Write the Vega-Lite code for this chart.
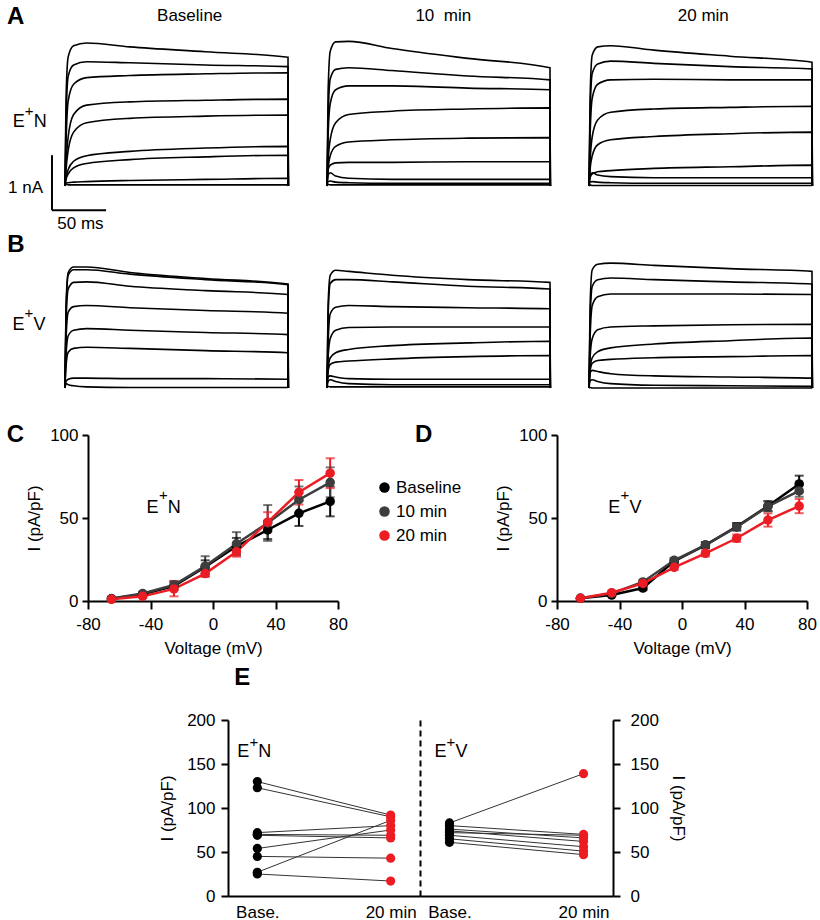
{
"$schema":"https://vega.github.io/schema/vega-lite/v6.json",
"padding":0,
"background":"white",
"config":{
 "font":"Liberation Sans",
 "view":{"stroke":null},
 "axis":{"domainColor":"#000","domainWidth":2,"tickColor":"#000","tickWidth":2,"labelColor":"#000","titleColor":"#000","labelFontSize":17,"titleFontSize":17,"titleFontWeight":"normal","grid":false,"labelFont":"Liberation Sans","titleFont":"Liberation Sans","labelFlush":false,"labelOverlap":false},
 "legend":{"labelFont":"Liberation Sans","labelColor":"#000"},
 "text":{"font":"Liberation Sans","color":"#000"}
},
"datasets":{
"A_base":[
{"k":1,"t":0,"i":0},{"k":1,"t":1,"i":1.6},{"k":1,"t":3,"i":2.35},{"k":1,"t":8,"i":2.55},{"k":1,"t":20,"i":2.6},{"k":1,"t":60,"i":2.53},{"k":1,"t":130,"i":2.44},{"k":1,"t":206,"i":2.34},{"k":1,"t":206.3,"i":0},
{"k":2,"t":0,"i":0},{"k":2,"t":1,"i":1.2},{"k":2,"t":3,"i":2.0},{"k":2,"t":8,"i":2.2},{"k":2,"t":20,"i":2.26},{"k":2,"t":60,"i":2.24},{"k":2,"t":130,"i":2.2},{"k":2,"t":206,"i":2.17},{"k":2,"t":206.3,"i":0},
{"k":3,"t":0,"i":0},{"k":3,"t":1,"i":0.8},{"k":3,"t":3,"i":1.55},{"k":3,"t":8,"i":1.85},{"k":3,"t":20,"i":1.97},{"k":3,"t":60,"i":2.01},{"k":3,"t":130,"i":2.04},{"k":3,"t":206,"i":2.06},{"k":3,"t":206.3,"i":0},
{"k":4,"t":0,"i":0},{"k":4,"t":1,"i":0.4},{"k":4,"t":3,"i":0.9},{"k":4,"t":8,"i":1.3},{"k":4,"t":20,"i":1.47},{"k":4,"t":60,"i":1.53},{"k":4,"t":130,"i":1.56},{"k":4,"t":206,"i":1.58},{"k":4,"t":206.3,"i":0},
{"k":5,"t":0,"i":0},{"k":5,"t":1,"i":0.3},{"k":5,"t":3,"i":0.65},{"k":5,"t":8,"i":0.98},{"k":5,"t":20,"i":1.15},{"k":5,"t":60,"i":1.23},{"k":5,"t":130,"i":1.27},{"k":5,"t":206,"i":1.29},{"k":5,"t":206.3,"i":0},
{"k":6,"t":0,"i":0},{"k":6,"t":1,"i":0.15},{"k":6,"t":3,"i":0.3},{"k":6,"t":8,"i":0.45},{"k":6,"t":20,"i":0.55},{"k":6,"t":60,"i":0.63},{"k":6,"t":130,"i":0.69},{"k":6,"t":206,"i":0.72},{"k":6,"t":206.3,"i":0},
{"k":7,"t":0,"i":0},{"k":7,"t":1,"i":0.12},{"k":7,"t":3,"i":0.22},{"k":7,"t":8,"i":0.33},{"k":7,"t":20,"i":0.41},{"k":7,"t":60,"i":0.48},{"k":7,"t":130,"i":0.53},{"k":7,"t":206,"i":0.56},{"k":7,"t":206.3,"i":0},
{"k":8,"t":0,"i":0},{"k":8,"t":1,"i":0.05},{"k":8,"t":3,"i":0.06},{"k":8,"t":8,"i":0.07},{"k":8,"t":20,"i":0.08},{"k":8,"t":60,"i":0.1},{"k":8,"t":130,"i":0.12},{"k":8,"t":206,"i":0.14},{"k":8,"t":206.3,"i":0},
{"k":9,"t":0,"i":0},{"k":9,"t":1,"i":0.03},{"k":9,"t":3,"i":0.02},{"k":9,"t":8,"i":0.02},{"k":9,"t":20,"i":0.02},{"k":9,"t":60,"i":0.02},{"k":9,"t":130,"i":0.02},{"k":9,"t":206,"i":0.02},{"k":9,"t":206.3,"i":0}
],
"A_10":[
{"k":1,"t":0,"i":0},{"k":1,"t":1,"i":1.7},{"k":1,"t":3,"i":2.45},{"k":1,"t":8,"i":2.62},{"k":1,"t":20,"i":2.63},{"k":1,"t":60,"i":2.5},{"k":1,"t":130,"i":2.32},{"k":1,"t":206,"i":2.15},{"k":1,"t":206.3,"i":0},
{"k":2,"t":0,"i":0},{"k":2,"t":1,"i":1.2},{"k":2,"t":3,"i":1.95},{"k":2,"t":8,"i":2.12},{"k":2,"t":20,"i":2.15},{"k":2,"t":60,"i":2.1},{"k":2,"t":130,"i":2.0},{"k":2,"t":206,"i":1.93},{"k":2,"t":206.3,"i":0},
{"k":3,"t":0,"i":0},{"k":3,"t":1,"i":0.9},{"k":3,"t":3,"i":1.5},{"k":3,"t":8,"i":1.75},{"k":3,"t":20,"i":1.82},{"k":3,"t":60,"i":1.82},{"k":3,"t":130,"i":1.78},{"k":3,"t":206,"i":1.75},{"k":3,"t":206.3,"i":0},
{"k":4,"t":0,"i":0},{"k":4,"t":1,"i":0.45},{"k":4,"t":3,"i":0.85},{"k":4,"t":8,"i":1.15},{"k":4,"t":20,"i":1.3},{"k":4,"t":60,"i":1.36},{"k":4,"t":130,"i":1.4},{"k":4,"t":206,"i":1.42},{"k":4,"t":206.3,"i":0},
{"k":5,"t":0,"i":0},{"k":5,"t":1,"i":0.3},{"k":5,"t":3,"i":0.55},{"k":5,"t":8,"i":0.72},{"k":5,"t":20,"i":0.8},{"k":5,"t":60,"i":0.84},{"k":5,"t":130,"i":0.87},{"k":5,"t":206,"i":0.88},{"k":5,"t":206.3,"i":0},
{"k":6,"t":0,"i":0},{"k":6,"t":1,"i":0.3},{"k":6,"t":3,"i":0.38},{"k":6,"t":8,"i":0.42},{"k":6,"t":20,"i":0.43},{"k":6,"t":60,"i":0.43},{"k":6,"t":130,"i":0.44},{"k":6,"t":206,"i":0.44},{"k":6,"t":206.3,"i":0},
{"k":7,"t":0,"i":0},{"k":7,"t":1,"i":0.2},{"k":7,"t":3,"i":0.24},{"k":7,"t":8,"i":0.18},{"k":7,"t":20,"i":0.14},{"k":7,"t":60,"i":0.12},{"k":7,"t":130,"i":0.12},{"k":7,"t":206,"i":0.12},{"k":7,"t":206.3,"i":0},
{"k":8,"t":0,"i":0},{"k":8,"t":1,"i":0.08},{"k":8,"t":3,"i":0.09},{"k":8,"t":8,"i":0.07},{"k":8,"t":20,"i":0.06},{"k":8,"t":60,"i":0.05},{"k":8,"t":130,"i":0.05},{"k":8,"t":206,"i":0.05},{"k":8,"t":206.3,"i":0},
{"k":9,"t":0,"i":0},{"k":9,"t":1,"i":0.03},{"k":9,"t":3,"i":0.02},{"k":9,"t":8,"i":0.02},{"k":9,"t":20,"i":0.02},{"k":9,"t":60,"i":0.02},{"k":9,"t":130,"i":0.02},{"k":9,"t":206,"i":0.02},{"k":9,"t":206.3,"i":0}
],
"A_20":[
{"k":1,"t":0,"i":0},{"k":1,"t":1,"i":1.6},{"k":1,"t":3,"i":2.38},{"k":1,"t":8,"i":2.53},{"k":1,"t":20,"i":2.55},{"k":1,"t":60,"i":2.47},{"k":1,"t":130,"i":2.36},{"k":1,"t":206,"i":2.25},{"k":1,"t":206.3,"i":0},
{"k":2,"t":0,"i":0},{"k":2,"t":1,"i":1.3},{"k":2,"t":3,"i":2.05},{"k":2,"t":8,"i":2.22},{"k":2,"t":20,"i":2.27},{"k":2,"t":60,"i":2.23},{"k":2,"t":130,"i":2.17},{"k":2,"t":206,"i":2.13},{"k":2,"t":206.3,"i":0},
{"k":3,"t":0,"i":0},{"k":3,"t":1,"i":0.9},{"k":3,"t":3,"i":1.6},{"k":3,"t":8,"i":1.85},{"k":3,"t":20,"i":1.93},{"k":3,"t":60,"i":1.94},{"k":3,"t":130,"i":1.93},{"k":3,"t":206,"i":1.93},{"k":3,"t":206.3,"i":0},
{"k":4,"t":0,"i":0},{"k":4,"t":1,"i":0.45},{"k":4,"t":3,"i":0.9},{"k":4,"t":8,"i":1.2},{"k":4,"t":20,"i":1.34},{"k":4,"t":60,"i":1.4},{"k":4,"t":130,"i":1.43},{"k":4,"t":206,"i":1.45},{"k":4,"t":206.3,"i":0},
{"k":5,"t":0,"i":0},{"k":5,"t":1,"i":0.3},{"k":5,"t":3,"i":0.55},{"k":5,"t":8,"i":0.75},{"k":5,"t":20,"i":0.84},{"k":5,"t":60,"i":0.9},{"k":5,"t":130,"i":0.95},{"k":5,"t":206,"i":0.98},{"k":5,"t":206.3,"i":0},
{"k":6,"t":0,"i":0},{"k":6,"t":1,"i":0.15},{"k":6,"t":3,"i":0.22},{"k":6,"t":8,"i":0.26},{"k":6,"t":20,"i":0.28},{"k":6,"t":60,"i":0.32},{"k":6,"t":130,"i":0.35},{"k":6,"t":206,"i":0.38},{"k":6,"t":206.3,"i":0},
{"k":7,"t":0,"i":0},{"k":7,"t":1,"i":0.2},{"k":7,"t":3,"i":0.24},{"k":7,"t":8,"i":0.2},{"k":7,"t":20,"i":0.17},{"k":7,"t":60,"i":0.15},{"k":7,"t":130,"i":0.15},{"k":7,"t":206,"i":0.15},{"k":7,"t":206.3,"i":0},
{"k":8,"t":0,"i":0},{"k":8,"t":1,"i":0.07},{"k":8,"t":3,"i":0.08},{"k":8,"t":8,"i":0.07},{"k":8,"t":20,"i":0.06},{"k":8,"t":60,"i":0.05},{"k":8,"t":130,"i":0.05},{"k":8,"t":206,"i":0.05},{"k":8,"t":206.3,"i":0},
{"k":9,"t":0,"i":0},{"k":9,"t":1,"i":0.02},{"k":9,"t":3,"i":0.01},{"k":9,"t":8,"i":0.01},{"k":9,"t":20,"i":0.01},{"k":9,"t":60,"i":0.01},{"k":9,"t":130,"i":0.01},{"k":9,"t":206,"i":0.01},{"k":9,"t":206.3,"i":0}
],
"B_base":[
{"k":1,"t":0,"i":0},{"k":1,"t":1,"i":1.5},{"k":1,"t":3,"i":2.1},{"k":1,"t":8,"i":2.2},{"k":1,"t":20,"i":2.2},{"k":1,"t":60,"i":2.1},{"k":1,"t":130,"i":1.99},{"k":1,"t":206,"i":1.89},{"k":1,"t":206.3,"i":0},
{"k":2,"t":0,"i":0},{"k":2,"t":1,"i":1.4},{"k":2,"t":3,"i":2.05},{"k":2,"t":8,"i":2.15},{"k":2,"t":20,"i":2.15},{"k":2,"t":60,"i":2.07},{"k":2,"t":130,"i":1.97},{"k":2,"t":206,"i":1.88},{"k":2,"t":206.3,"i":0},
{"k":3,"t":0,"i":0},{"k":3,"t":1,"i":1.2},{"k":3,"t":3,"i":1.8},{"k":3,"t":8,"i":1.92},{"k":3,"t":20,"i":1.93},{"k":3,"t":60,"i":1.85},{"k":3,"t":130,"i":1.77},{"k":3,"t":206,"i":1.7},{"k":3,"t":206.3,"i":0},
{"k":4,"t":0,"i":0},{"k":4,"t":1,"i":0.9},{"k":4,"t":3,"i":1.38},{"k":4,"t":8,"i":1.48},{"k":4,"t":20,"i":1.5},{"k":4,"t":60,"i":1.46},{"k":4,"t":130,"i":1.41},{"k":4,"t":206,"i":1.36},{"k":4,"t":206.3,"i":0},
{"k":5,"t":0,"i":0},{"k":5,"t":1,"i":0.6},{"k":5,"t":3,"i":0.95},{"k":5,"t":8,"i":1.05},{"k":5,"t":20,"i":1.08},{"k":5,"t":60,"i":1.05},{"k":5,"t":130,"i":1.01},{"k":5,"t":206,"i":0.97},{"k":5,"t":206.3,"i":0},
{"k":6,"t":0,"i":0},{"k":6,"t":1,"i":0.4},{"k":6,"t":3,"i":0.65},{"k":6,"t":8,"i":0.72},{"k":6,"t":20,"i":0.74},{"k":6,"t":60,"i":0.72},{"k":6,"t":130,"i":0.68},{"k":6,"t":206,"i":0.64},{"k":6,"t":206.3,"i":0},
{"k":7,"t":0,"i":0},{"k":7,"t":1,"i":0.12},{"k":7,"t":3,"i":0.16},{"k":7,"t":8,"i":0.18},{"k":7,"t":20,"i":0.18},{"k":7,"t":60,"i":0.17},{"k":7,"t":130,"i":0.17},{"k":7,"t":206,"i":0.16},{"k":7,"t":206.3,"i":0},
{"k":8,"t":0,"i":0},{"k":8,"t":1,"i":0.08},{"k":8,"t":3,"i":0.06},{"k":8,"t":8,"i":0.04},{"k":8,"t":20,"i":0.02},{"k":8,"t":60,"i":0.01},{"k":8,"t":130,"i":0.01},{"k":8,"t":206,"i":0.01},{"k":8,"t":206.3,"i":0}
],
"B_10":[
{"k":1,"t":0,"i":0},{"k":1,"t":1,"i":1.5},{"k":1,"t":3,"i":2.05},{"k":1,"t":8,"i":2.14},{"k":1,"t":20,"i":2.12},{"k":1,"t":60,"i":2.05},{"k":1,"t":130,"i":1.97},{"k":1,"t":206,"i":1.92},{"k":1,"t":206.3,"i":0},
{"k":2,"t":0,"i":0},{"k":2,"t":1,"i":1.3},{"k":2,"t":3,"i":1.9},{"k":2,"t":8,"i":1.97},{"k":2,"t":20,"i":1.97},{"k":2,"t":60,"i":1.93},{"k":2,"t":130,"i":1.85},{"k":2,"t":206,"i":1.8},{"k":2,"t":206.3,"i":0},
{"k":3,"t":0,"i":0},{"k":3,"t":1,"i":0.8},{"k":3,"t":3,"i":1.35},{"k":3,"t":8,"i":1.47},{"k":3,"t":20,"i":1.5},{"k":3,"t":60,"i":1.48},{"k":3,"t":130,"i":1.46},{"k":3,"t":206,"i":1.44},{"k":3,"t":206.3,"i":0},
{"k":4,"t":0,"i":0},{"k":4,"t":1,"i":0.55},{"k":4,"t":3,"i":0.9},{"k":4,"t":8,"i":1.05},{"k":4,"t":20,"i":1.1},{"k":4,"t":60,"i":1.11},{"k":4,"t":130,"i":1.11},{"k":4,"t":206,"i":1.11},{"k":4,"t":206.3,"i":0},
{"k":5,"t":0,"i":0},{"k":5,"t":1,"i":0.35},{"k":5,"t":3,"i":0.55},{"k":5,"t":8,"i":0.64},{"k":5,"t":20,"i":0.7},{"k":5,"t":60,"i":0.77},{"k":5,"t":130,"i":0.82},{"k":5,"t":206,"i":0.85},{"k":5,"t":206.3,"i":0},
{"k":6,"t":0,"i":0},{"k":6,"t":1,"i":0.3},{"k":6,"t":3,"i":0.43},{"k":6,"t":8,"i":0.47},{"k":6,"t":20,"i":0.49},{"k":6,"t":60,"i":0.53},{"k":6,"t":130,"i":0.57},{"k":6,"t":206,"i":0.59},{"k":6,"t":206.3,"i":0},
{"k":7,"t":0,"i":0},{"k":7,"t":1,"i":0.2},{"k":7,"t":3,"i":0.22},{"k":7,"t":8,"i":0.2},{"k":7,"t":20,"i":0.17},{"k":7,"t":60,"i":0.16},{"k":7,"t":130,"i":0.16},{"k":7,"t":206,"i":0.16},{"k":7,"t":206.3,"i":0},
{"k":8,"t":0,"i":0},{"k":8,"t":1,"i":0.12},{"k":8,"t":3,"i":0.15},{"k":8,"t":8,"i":0.12},{"k":8,"t":20,"i":0.08},{"k":8,"t":60,"i":0.06},{"k":8,"t":130,"i":0.06},{"k":8,"t":206,"i":0.06},{"k":8,"t":206.3,"i":0},
{"k":9,"t":0,"i":0},{"k":9,"t":1,"i":0.03},{"k":9,"t":3,"i":0.02},{"k":9,"t":8,"i":0.02},{"k":9,"t":20,"i":0.02},{"k":9,"t":60,"i":0.02},{"k":9,"t":130,"i":0.02},{"k":9,"t":206,"i":0.02},{"k":9,"t":206.3,"i":0}
],
"B_20":[
{"k":1,"t":0,"i":0},{"k":1,"t":1,"i":1.5},{"k":1,"t":3,"i":2.15},{"k":1,"t":8,"i":2.25},{"k":1,"t":20,"i":2.27},{"k":1,"t":60,"i":2.23},{"k":1,"t":130,"i":2.17},{"k":1,"t":206,"i":2.12},{"k":1,"t":206.3,"i":0},
{"k":2,"t":0,"i":0},{"k":2,"t":1,"i":1.2},{"k":2,"t":3,"i":1.85},{"k":2,"t":8,"i":1.97},{"k":2,"t":20,"i":2.0},{"k":2,"t":60,"i":1.97},{"k":2,"t":130,"i":1.93},{"k":2,"t":206,"i":1.89},{"k":2,"t":206.3,"i":0},
{"k":3,"t":0,"i":0},{"k":3,"t":1,"i":0.9},{"k":3,"t":3,"i":1.5},{"k":3,"t":8,"i":1.66},{"k":3,"t":20,"i":1.71},{"k":3,"t":60,"i":1.71},{"k":3,"t":130,"i":1.71},{"k":3,"t":206,"i":1.7},{"k":3,"t":206.3,"i":0},
{"k":4,"t":0,"i":0},{"k":4,"t":1,"i":0.55},{"k":4,"t":3,"i":0.9},{"k":4,"t":8,"i":1.06},{"k":4,"t":20,"i":1.11},{"k":4,"t":60,"i":1.13},{"k":4,"t":130,"i":1.15},{"k":4,"t":206,"i":1.16},{"k":4,"t":206.3,"i":0},
{"k":5,"t":0,"i":0},{"k":5,"t":1,"i":0.35},{"k":5,"t":3,"i":0.55},{"k":5,"t":8,"i":0.66},{"k":5,"t":20,"i":0.73},{"k":5,"t":60,"i":0.8},{"k":5,"t":130,"i":0.86},{"k":5,"t":206,"i":0.91},{"k":5,"t":206.3,"i":0},
{"k":6,"t":0,"i":0},{"k":6,"t":1,"i":0.3},{"k":6,"t":3,"i":0.45},{"k":6,"t":8,"i":0.5},{"k":6,"t":20,"i":0.52},{"k":6,"t":60,"i":0.55},{"k":6,"t":130,"i":0.57},{"k":6,"t":206,"i":0.59},{"k":6,"t":206.3,"i":0},
{"k":7,"t":0,"i":0},{"k":7,"t":1,"i":0.28},{"k":7,"t":3,"i":0.32},{"k":7,"t":8,"i":0.3},{"k":7,"t":20,"i":0.26},{"k":7,"t":60,"i":0.22},{"k":7,"t":130,"i":0.2},{"k":7,"t":206,"i":0.18},{"k":7,"t":206.3,"i":0},
{"k":8,"t":0,"i":0},{"k":8,"t":1,"i":0.13},{"k":8,"t":3,"i":0.15},{"k":8,"t":8,"i":0.12},{"k":8,"t":20,"i":0.08},{"k":8,"t":60,"i":0.05},{"k":8,"t":130,"i":0.04},{"k":8,"t":206,"i":0.03},{"k":8,"t":206.3,"i":0},
{"k":9,"t":0,"i":0},{"k":9,"t":1,"i":0.01},{"k":9,"t":3,"i":0},{"k":9,"t":8,"i":0},{"k":9,"t":20,"i":0},{"k":9,"t":60,"i":0},{"k":9,"t":130,"i":0},{"k":9,"t":206,"i":0},{"k":9,"t":206.3,"i":0}
],
"IV_N":[
{"v":-65,"s":"Baseline","m":1.3,"lo":0.7,"hi":1.9},{"v":-45,"s":"Baseline","m":4.0,"lo":3.0,"hi":5.0},{"v":-25,"s":"Baseline","m":9.0,"lo":6.5,"hi":11.5},{"v":-5,"s":"Baseline","m":20.5,"lo":16.5,"hi":24.5},{"v":15,"s":"Baseline","m":33.0,"lo":28.0,"hi":38.0},{"v":35,"s":"Baseline","m":42.8,"lo":37.3,"hi":48.3},{"v":55,"s":"Baseline","m":52.8,"lo":45.2,"hi":60.4},{"v":75,"s":"Baseline","m":60.0,"lo":51.0,"hi":69.0},
{"v":-65,"s":"10 min","m":1.5,"lo":0.9,"hi":2.1},{"v":-45,"s":"10 min","m":4.5,"lo":3.5,"hi":5.5},{"v":-25,"s":"10 min","m":9.6,"lo":7.1,"hi":12.1},{"v":-5,"s":"10 min","m":21.0,"lo":15.0,"hi":27.0},{"v":15,"s":"10 min","m":34.5,"lo":27.5,"hi":41.5},{"v":35,"s":"10 min","m":47.0,"lo":36.2,"hi":57.8},{"v":55,"s":"10 min","m":61.0,"lo":53.0,"hi":69.0},{"v":75,"s":"10 min","m":71.5,"lo":62.5,"hi":80.5},
{"v":-65,"s":"20 min","m":1.0,"lo":0.4,"hi":1.6},{"v":-45,"s":"20 min","m":2.8,"lo":1.8,"hi":3.8},{"v":-25,"s":"20 min","m":7.3,"lo":2.8,"hi":11.8},{"v":-5,"s":"20 min","m":16.5,"lo":14.5,"hi":18.5},{"v":15,"s":"20 min","m":29.7,"lo":26.7,"hi":32.7},{"v":35,"s":"20 min","m":47.5,"lo":41.5,"hi":53.5},{"v":55,"s":"20 min","m":65.5,"lo":58.1,"hi":72.9},{"v":75,"s":"20 min","m":77.0,"lo":68.0,"hi":86.0}
],
"IV_V":[
{"v":-65,"s":"Baseline","m":1.6,"lo":1.1,"hi":2.1},{"v":-45,"s":"Baseline","m":3.6,"lo":2.8,"hi":4.4},{"v":-25,"s":"Baseline","m":7.8,"lo":6.6,"hi":9.0},{"v":-5,"s":"Baseline","m":24.0,"lo":22.5,"hi":25.5},{"v":15,"s":"Baseline","m":33.7,"lo":31.9,"hi":35.5},{"v":35,"s":"Baseline","m":44.8,"lo":42.6,"hi":47.0},{"v":55,"s":"Baseline","m":57.2,"lo":54.2,"hi":60.2},{"v":75,"s":"Baseline","m":70.5,"lo":65.5,"hi":75.5},
{"v":-65,"s":"10 min","m":1.6,"lo":1.1,"hi":2.1},{"v":-45,"s":"10 min","m":4.6,"lo":3.8,"hi":5.4},{"v":-25,"s":"10 min","m":11.5,"lo":10.3,"hi":12.7},{"v":-5,"s":"10 min","m":24.5,"lo":23.0,"hi":26.0},{"v":15,"s":"10 min","m":33.7,"lo":31.9,"hi":35.5},{"v":35,"s":"10 min","m":44.6,"lo":42.4,"hi":46.8},{"v":55,"s":"10 min","m":57.0,"lo":54.0,"hi":60.0},{"v":75,"s":"10 min","m":66.3,"lo":62.8,"hi":69.8},
{"v":-65,"s":"20 min","m":1.6,"lo":1.1,"hi":2.1},{"v":-45,"s":"20 min","m":5.0,"lo":4.2,"hi":5.8},{"v":-25,"s":"20 min","m":10.6,"lo":9.4,"hi":11.8},{"v":-5,"s":"20 min","m":20.3,"lo":18.8,"hi":21.8},{"v":15,"s":"20 min","m":28.7,"lo":26.9,"hi":30.5},{"v":35,"s":"20 min","m":37.8,"lo":35.6,"hi":40.0},{"v":55,"s":"20 min","m":48.8,"lo":44.8,"hi":52.8},{"v":75,"s":"20 min","m":57.2,"lo":52.9,"hi":61.5}
],
"E_N":[
{"id":1,"c":"Base.","v":130},{"id":2,"c":"Base.","v":123},{"id":3,"c":"Base.","v":72},{"id":4,"c":"Base.","v":70},{"id":5,"c":"Base.","v":69},{"id":6,"c":"Base.","v":54},{"id":7,"c":"Base.","v":45},{"id":8,"c":"Base.","v":27},{"id":9,"c":"Base.","v":25},
{"id":1,"c":"20 min","v":92},{"id":2,"c":"20 min","v":90},{"id":3,"c":"20 min","v":80},{"id":4,"c":"20 min","v":69},{"id":5,"c":"20 min","v":66},{"id":6,"c":"20 min","v":75},{"id":7,"c":"20 min","v":43},{"id":8,"c":"20 min","v":86},{"id":9,"c":"20 min","v":17}
],
"E_V":[
{"id":1,"c":"Base.","v":83},{"id":2,"c":"Base.","v":80},{"id":3,"c":"Base.","v":76},{"id":4,"c":"Base.","v":74},{"id":5,"c":"Base.","v":72},{"id":6,"c":"Base.","v":69},{"id":7,"c":"Base.","v":65},{"id":8,"c":"Base.","v":61},
{"id":1,"c":"20 min","v":139},{"id":2,"c":"20 min","v":70},{"id":3,"c":"20 min","v":66},{"id":4,"c":"20 min","v":62},{"id":5,"c":"20 min","v":69},{"id":6,"c":"20 min","v":56},{"id":7,"c":"20 min","v":51},{"id":8,"c":"20 min","v":47}
]
},
"vconcat":[
{"vconcat":[
 {"hconcat":[
  {"width":288,"height":232,
   "encoding":{"x":{"field":"t","type":"quantitative","scale":{"domain":[-60,206],"nice":false,"zero":false},"axis":null},
               "y":{"field":"i","type":"quantitative","scale":{"domain":[-0.8364,3.3818],"nice":false,"zero":false},"axis":null}},
   "layer":[
    {"data":{"name":"A_base"},"mark":{"type":"line","interpolate":"monotone","color":"#000","strokeWidth":1.6},"encoding":{"detail":{"field":"k"}}},
    {"data":{"values":[{"t":-12,"i":-0.44,"t2":-12,"i2":0.56},{"t":-12,"i":-0.44,"t2":38,"i2":-0.44}]},"mark":{"type":"rule","color":"#000","strokeWidth":2},"encoding":{"x2":{"field":"t2"},"y2":{"field":"i2"}}},
    {"data":{"values":[{"t":-53.6,"i":2.945,"s":"A"}]},"mark":{"type":"text","align":"left","baseline":"alphabetic","fontSize":24,"fontWeight":"bold"},"encoding":{"text":{"field":"s"}}},
    {"data":{"values":[{"t":115.2,"i":3.005,"s":"Baseline"},{"t":14.3,"i":-0.773,"s":"50 ms"}]},"mark":{"type":"text","align":"center","baseline":"alphabetic","fontSize":17},"encoding":{"text":{"field":"s"}}},
    {"data":{"values":[{"t":-20.3,"i":-0.133,"s":"1 nA"}]},"mark":{"type":"text","align":"right","baseline":"alphabetic","fontSize":17},"encoding":{"text":{"field":"s"}}},
    {"data":{"values":[{"t":-48.3,"i":1.073,"s":"E"},{"t":-28.8,"i":1.073,"s":"N"}]},"mark":{"type":"text","align":"left","baseline":"alphabetic","fontSize":18},"encoding":{"text":{"field":"s"}}},
    {"data":{"values":[{"t":-33.1,"i":1.367,"s":"+"}]},"mark":{"type":"text","align":"center","baseline":"middle","fontSize":15},"encoding":{"text":{"field":"s"}}}
   ]},
  {"width":223,"height":232,
   "encoding":{"x":{"field":"t","type":"quantitative","scale":{"domain":[0,206],"nice":false,"zero":false},"axis":null},
               "y":{"field":"i","type":"quantitative","scale":{"domain":[-0.8364,3.3818],"nice":false,"zero":false},"axis":null}},
   "layer":[
    {"data":{"name":"A_10"},"mark":{"type":"line","interpolate":"monotone","color":"#000","strokeWidth":1.6},"encoding":{"detail":{"field":"k"}}},
    {"data":{"values":[{"t":107.4,"i":3.005,"s":"10\u00a0 min"}]},"mark":{"type":"text","align":"center","baseline":"alphabetic","fontSize":17},"encoding":{"text":{"field":"s"}}}
   ]},
  {"width":223,"height":232,
   "encoding":{"x":{"field":"t","type":"quantitative","scale":{"domain":[0,206],"nice":false,"zero":false},"axis":null},
               "y":{"field":"i","type":"quantitative","scale":{"domain":[-0.8364,3.3818],"nice":false,"zero":false},"axis":null}},
   "layer":[
    {"data":{"name":"A_20"},"mark":{"type":"line","interpolate":"monotone","color":"#000","strokeWidth":1.6},"encoding":{"detail":{"field":"k"}}},
    {"data":{"values":[{"t":105.6,"i":3.005,"s":"20 min"}]},"mark":{"type":"text","align":"center","baseline":"alphabetic","fontSize":17},"encoding":{"text":{"field":"s"}}}
   ]}
 ],"spacing":39,"bounds":"flush"},
 {"hconcat":[
  {"width":288,"height":190,
   "encoding":{"x":{"field":"t","type":"quantitative","scale":{"domain":[-60,206],"nice":false,"zero":false},"axis":null},
               "y":{"field":"i","type":"quantitative","scale":{"domain":[-0.6182,2.8364],"nice":false,"zero":false},"axis":null}},
   "layer":[
    {"data":{"name":"B_base"},"mark":{"type":"line","interpolate":"monotone","color":"#000","strokeWidth":1.6},"encoding":{"detail":{"field":"k"}}},
    {"data":{"values":[{"t":-53.3,"i":2.478,"s":"B"}]},"mark":{"type":"text","align":"left","baseline":"alphabetic","fontSize":24,"fontWeight":"bold"},"encoding":{"text":{"field":"s"}}},
    {"data":{"values":[{"t":-48.5,"i":1.055,"s":"E"},{"t":-29.0,"i":1.055,"s":"V"}]},"mark":{"type":"text","align":"left","baseline":"alphabetic","fontSize":18},"encoding":{"text":{"field":"s"}}},
    {"data":{"values":[{"t":-33.3,"i":1.37,"s":"+"}]},"mark":{"type":"text","align":"center","baseline":"middle","fontSize":15},"encoding":{"text":{"field":"s"}}}
   ]},
  {"width":223,"height":190,
   "encoding":{"x":{"field":"t","type":"quantitative","scale":{"domain":[0,206],"nice":false,"zero":false},"axis":null},
               "y":{"field":"i","type":"quantitative","scale":{"domain":[-0.6182,2.8364],"nice":false,"zero":false},"axis":null}},
   "layer":[
    {"data":{"name":"B_10"},"mark":{"type":"line","interpolate":"monotone","color":"#000","strokeWidth":1.6},"encoding":{"detail":{"field":"k"}}}
   ]},
  {"width":223,"height":190,
   "encoding":{"x":{"field":"t","type":"quantitative","scale":{"domain":[0,206],"nice":false,"zero":false},"axis":null},
               "y":{"field":"i","type":"quantitative","scale":{"domain":[-0.6182,2.8364],"nice":false,"zero":false},"axis":null}},
   "layer":[
    {"data":{"name":"B_20"},"mark":{"type":"line","interpolate":"monotone","color":"#000","strokeWidth":1.6},"encoding":{"detail":{"field":"k"}}}
   ]}
 ],"spacing":39,"bounds":"flush"},
 {"hconcat":[
  {"width":88,"height":10,"data":{"values":[]},"mark":"point"},
  {"width":250,"height":166,
   "encoding":{
     "x":{"field":"v","type":"quantitative","scale":{"domain":[-80,80],"nice":false,"zero":false},"axis":{"values":[-80,-40,0,40,80],"labelExpr":"'' + datum.value","title":"Voltage (mV)","tickSize":8,"labelPadding":7,"titlePadding":8}},
     "y":{"field":"m","type":"quantitative","scale":{"domain":[0,100],"nice":false},"axis":null}},
   "layer":[
    {"data":{"name":"IV_N"},"mark":{"type":"rule","strokeWidth":2},"encoding":{"y":{"field":"lo","type":"quantitative","scale":{"domain":[0,100],"nice":false},"axis":null},"y2":{"field":"hi"},"color":{"field":"s","type":"nominal","scale":{"domain":["Baseline","10 min","20 min"],"range":["#000000","#3d3d3d","#ec1c24"]},"legend":null}}},
    {"data":{"name":"IV_N"},"mark":{"type":"tick","orient":"horizontal","size":9,"thickness":2},"encoding":{"y":{"field":"hi","type":"quantitative","scale":{"domain":[0,100],"nice":false},"axis":null},"color":{"field":"s","type":"nominal","scale":{"domain":["Baseline","10 min","20 min"],"range":["#000000","#3d3d3d","#ec1c24"]},"legend":null}}},
    {"data":{"name":"IV_N"},"mark":{"type":"tick","orient":"horizontal","size":9,"thickness":2},"encoding":{"y":{"field":"lo","type":"quantitative","scale":{"domain":[0,100],"nice":false},"axis":null},"color":{"field":"s","type":"nominal","scale":{"domain":["Baseline","10 min","20 min"],"range":["#000000","#3d3d3d","#ec1c24"]},"legend":null}}},
    {"data":{"name":"IV_N"},"mark":{"type":"line","strokeWidth":2.5},"encoding":{"y":{"field":"m","type":"quantitative","scale":{"domain":[0,100],"nice":false},"axis":{"values":[0,50,100],"title":"I (pA/pF)","tickSize":6,"labelPadding":4,"titlePadding":6}},"color":{"field":"s","type":"nominal","scale":{"domain":["Baseline","10 min","20 min"],"range":["#000000","#3d3d3d","#ec1c24"]},"legend":null}}},
    {"data":{"name":"IV_N"},"mark":{"type":"circle","size":90,"opacity":1},"encoding":{"color":{"field":"s","type":"nominal","scale":{"domain":["Baseline","10 min","20 min"],"range":["#000000","#3d3d3d","#ec1c24"]},"legend":{"orient":"none","legendX":288,"legendY":44,"title":null,"labelFontSize":17,"symbolType":"circle","symbolSize":110,"rowPadding":6,"labelOffset":3,"padding":0,"symbolStrokeWidth":0,"symbolOpacity":1}}}},
    {"data":{"values":[{"v":-132,"m":95.8,"lab":"C"}]},"mark":{"type":"text","align":"left","baseline":"alphabetic","fontSize":24,"fontWeight":"bold"},"encoding":{"text":{"field":"lab"}}},
    {"data":{"values":[{"v":-42.5,"m":53,"lab":"E"},{"v":-29.0,"m":53,"lab":"N"}]},"mark":{"type":"text","align":"left","baseline":"alphabetic","fontSize":18},"encoding":{"text":{"field":"lab"}}},
    {"data":{"values":[{"v":-31.8,"m":63.9,"lab":"+"}]},"mark":{"type":"text","align":"center","baseline":"middle","fontSize":15},"encoding":{"text":{"field":"lab"}}}
   ],
   "resolve":{"axis":{"y":"independent"},"legend":{"color":"independent"}}},
  {"width":219,"height":10,"data":{"values":[]},"mark":"point"},
  {"width":250,"height":166,
   "encoding":{
     "x":{"field":"v","type":"quantitative","scale":{"domain":[-80,80],"nice":false,"zero":false},"axis":{"values":[-80,-40,0,40,80],"labelExpr":"'' + datum.value","title":"Voltage (mV)","tickSize":8,"labelPadding":7,"titlePadding":8}},
     "y":{"field":"m","type":"quantitative","scale":{"domain":[0,100],"nice":false},"axis":null}},
   "layer":[
    {"data":{"name":"IV_V"},"mark":{"type":"rule","strokeWidth":2},"encoding":{"y":{"field":"lo","type":"quantitative","scale":{"domain":[0,100],"nice":false},"axis":null},"y2":{"field":"hi"},"color":{"field":"s","type":"nominal","scale":{"domain":["Baseline","10 min","20 min"],"range":["#000000","#3d3d3d","#ec1c24"]},"legend":null}}},
    {"data":{"name":"IV_V"},"mark":{"type":"tick","orient":"horizontal","size":9,"thickness":2},"encoding":{"y":{"field":"hi","type":"quantitative","scale":{"domain":[0,100],"nice":false},"axis":null},"color":{"field":"s","type":"nominal","scale":{"domain":["Baseline","10 min","20 min"],"range":["#000000","#3d3d3d","#ec1c24"]},"legend":null}}},
    {"data":{"name":"IV_V"},"mark":{"type":"tick","orient":"horizontal","size":9,"thickness":2},"encoding":{"y":{"field":"lo","type":"quantitative","scale":{"domain":[0,100],"nice":false},"axis":null},"color":{"field":"s","type":"nominal","scale":{"domain":["Baseline","10 min","20 min"],"range":["#000000","#3d3d3d","#ec1c24"]},"legend":null}}},
    {"data":{"name":"IV_V"},"mark":{"type":"line","strokeWidth":2.5},"encoding":{"y":{"field":"m","type":"quantitative","scale":{"domain":[0,100],"nice":false},"axis":{"values":[0,50,100],"title":"I (pA/pF)","tickSize":6,"labelPadding":4,"titlePadding":6}},"color":{"field":"s","type":"nominal","scale":{"domain":["Baseline","10 min","20 min"],"range":["#000000","#3d3d3d","#ec1c24"]},"legend":null}}},
    {"data":{"name":"IV_V"},"mark":{"type":"circle","size":90,"opacity":1},"encoding":{"color":{"field":"s","type":"nominal","scale":{"domain":["Baseline","10 min","20 min"],"range":["#000000","#3d3d3d","#ec1c24"]},"legend":null}}},
    {"data":{"values":[{"v":-170.9,"m":95.8,"lab":"D"}]},"mark":{"type":"text","align":"left","baseline":"alphabetic","fontSize":24,"fontWeight":"bold"},"encoding":{"text":{"field":"lab"}}},
    {"data":{"values":[{"v":-47.2,"m":53,"lab":"E"},{"v":-33.6,"m":53,"lab":"V"}]},"mark":{"type":"text","align":"left","baseline":"alphabetic","fontSize":18},"encoding":{"text":{"field":"lab"}}},
    {"data":{"values":[{"v":-36.5,"m":63.9,"lab":"+"}]},"mark":{"type":"text","align":"center","baseline":"middle","fontSize":15},"encoding":{"text":{"field":"lab"}}}
   ],
   "resolve":{"axis":{"y":"independent"}}}
 ],"spacing":0,"bounds":"flush"}
],"spacing":0},
{"hconcat":[
  {"width":228,"height":10,"data":{"values":[]},"mark":"point"},
  {"width":192,"height":176,
   "encoding":{"x":{"field":"c","type":"nominal","scale":{"type":"point","domain":["Base.","20 min"],"padding":0.22},"axis":{"title":null,"ticks":false,"tickSize":0,"labelAngle":0,"labelPadding":8}}},
   "layer":[
    {"data":{"name":"E_N"},"mark":{"type":"line","color":"#333333","strokeWidth":1},"encoding":{"y":{"field":"v","type":"quantitative","scale":{"domain":[0,200],"nice":false},"axis":{"orient":"left","values":[0,50,100,150,200],"title":"I (pA/pF)","tickSize":7,"labelPadding":6,"titlePadding":10}},"detail":{"field":"id"}}},
    {"data":{"name":"E_N"},"mark":{"type":"circle","size":85,"opacity":1},"encoding":{"y":{"field":"v","type":"quantitative","scale":{"domain":[0,200],"nice":false},"axis":{"orient":"right","domainDash":[6,4],"ticks":false,"labels":false,"title":null}},"fill":{"field":"c","type":"nominal","scale":{"domain":["Base.","20 min"],"range":["#000000","#ec1c24"]},"legend":null}}},
    {"data":{"values":[{"c":"Base.","v":158,"s":"E"}]},"mark":{"type":"text","align":"left","baseline":"alphabetic","fontSize":18,"dx":-20},"encoding":{"y":{"field":"v","type":"quantitative","scale":{"domain":[0,200],"nice":false},"axis":null},"text":{"field":"s"}}},
    {"data":{"values":[{"c":"Base.","v":158,"s":"N"}]},"mark":{"type":"text","align":"left","baseline":"alphabetic","fontSize":18,"dx":1},"encoding":{"y":{"field":"v","type":"quantitative","scale":{"domain":[0,200],"nice":false},"axis":null},"text":{"field":"s"}}},
    {"data":{"values":[{"c":"Base.","v":175,"s":"+"}]},"mark":{"type":"text","align":"center","baseline":"middle","fontSize":15,"dx":-3.5},"encoding":{"y":{"field":"v","type":"quantitative","scale":{"domain":[0,200],"nice":false},"axis":null},"text":{"field":"s"}}},
    {"data":{"values":[{"c":"Base.","v":239.8,"s":"E"}]},"mark":{"type":"text","align":"left","baseline":"alphabetic","fontSize":24,"fontWeight":"bold","dx":-23},"encoding":{"y":{"field":"v","type":"quantitative","scale":{"domain":[0,200],"nice":false},"axis":null},"text":{"field":"s"}}}
   ],
   "resolve":{"axis":{"y":"independent"}}},
  {"width":193,"height":176,
   "encoding":{"x":{"field":"c","type":"nominal","scale":{"type":"point","domain":["Base.","20 min"],"padding":0.22},"axis":{"title":null,"ticks":false,"tickSize":0,"labelAngle":0,"labelPadding":8}}},
   "layer":[
    {"data":{"name":"E_V"},"mark":{"type":"line","color":"#333333","strokeWidth":1},"encoding":{"y":{"field":"v","type":"quantitative","scale":{"domain":[0,200],"nice":false},"axis":{"orient":"right","values":[0,50,100,150,200],"title":"I (pA/pF)","titleAngle":90,"tickSize":7,"labelPadding":10,"titlePadding":10}},"detail":{"field":"id"}}},
    {"data":{"name":"E_V"},"mark":{"type":"circle","size":85,"opacity":1},"encoding":{"y":{"field":"v","type":"quantitative","scale":{"domain":[0,200],"nice":false},"axis":null},"fill":{"field":"c","type":"nominal","scale":{"domain":["Base.","20 min"],"range":["#000000","#ec1c24"]},"legend":null}}},
    {"data":{"values":[{"c":"Base.","v":158,"s":"E"}]},"mark":{"type":"text","align":"left","baseline":"alphabetic","fontSize":18,"dx":-15},"encoding":{"y":{"field":"v","type":"quantitative","scale":{"domain":[0,200],"nice":false},"axis":null},"text":{"field":"s"}}},
    {"data":{"values":[{"c":"Base.","v":158,"s":"V"}]},"mark":{"type":"text","align":"left","baseline":"alphabetic","fontSize":18,"dx":6},"encoding":{"y":{"field":"v","type":"quantitative","scale":{"domain":[0,200],"nice":false},"axis":null},"text":{"field":"s"}}},
    {"data":{"values":[{"c":"Base.","v":175,"s":"+"}]},"mark":{"type":"text","align":"center","baseline":"middle","fontSize":15,"dx":1.5},"encoding":{"y":{"field":"v","type":"quantitative","scale":{"domain":[0,200],"nice":false},"axis":null},"text":{"field":"s"}}}
   ],
   "resolve":{"axis":{"y":"independent"}}}
 ],"spacing":0,"bounds":"flush"}
],
"spacing":9
}
